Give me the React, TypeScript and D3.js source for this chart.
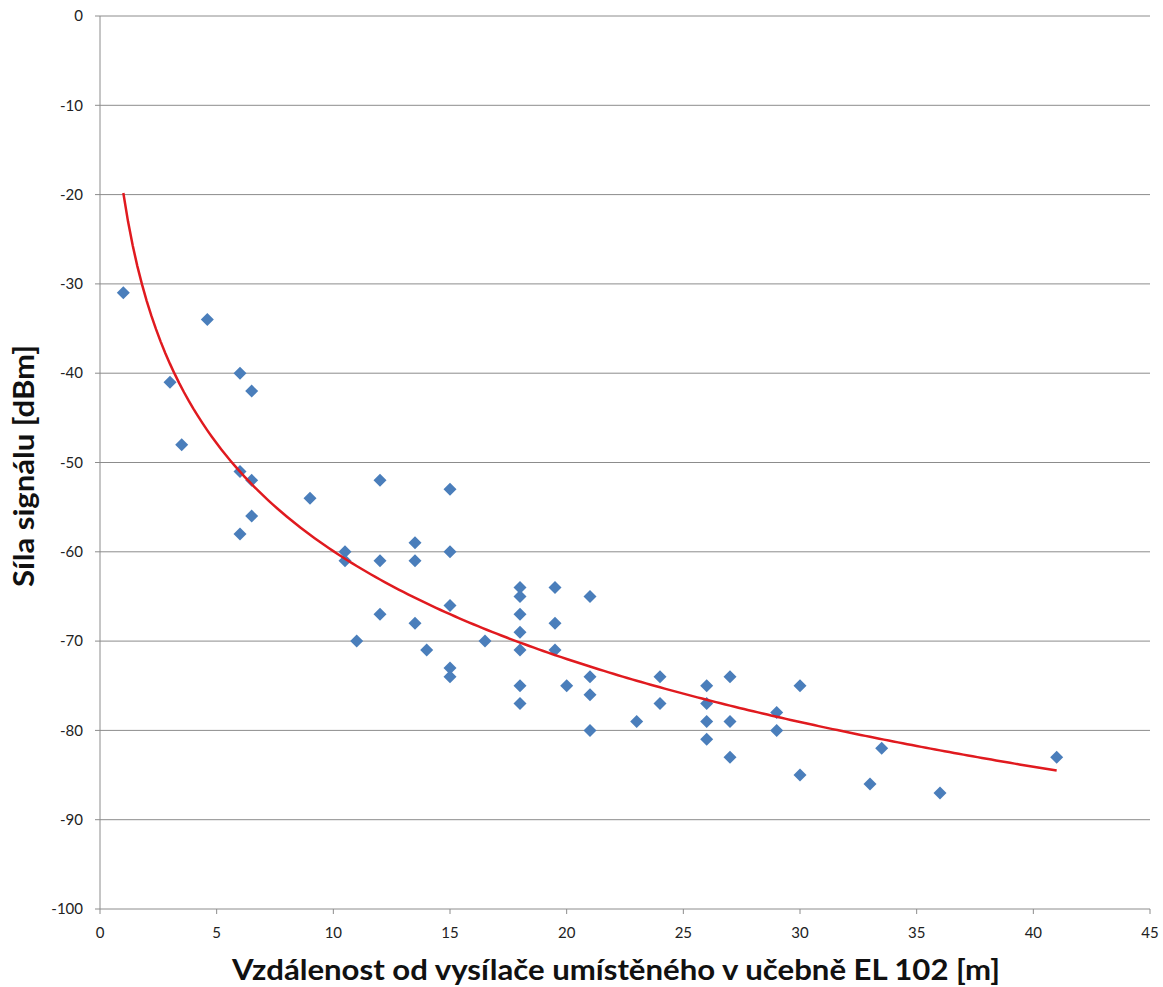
import React from "react";
import * as d3 from "d3";

const distances: number[] = [
  1, 3, 3.5, 4.6, 6, 6.5, 6, 6.5, 6.5, 6,
  9, 10.5, 10.5, 12, 12, 12, 11, 13.5, 13.5, 13.5,
  14, 15, 15, 15, 15, 15, 16.5, 18, 18, 18,
  18, 18, 18, 18, 19.5, 19.5, 19.5, 20, 21, 21,
  21, 21, 23, 24, 24, 26, 26, 26, 26, 27,
  27, 27, 29, 29, 30, 30, 33, 33.5, 36, 41,
];
const signals: number[] = [
  -31, -41, -48, -34, -40, -42, -51, -52, -56, -58,
  -54, -60, -61, -52, -61, -67, -70, -59, -61, -68,
  -71, -53, -60, -66, -73, -74, -70, -64, -65, -67,
  -69, -71, -75, -77, -64, -68, -71, -75, -65, -74,
  -76, -80, -79, -74, -77, -75, -77, -79, -81, -74,
  -79, -83, -78, -80, -75, -85, -86, -82, -87, -83,
];
const xTicks: number[] = [0, 5, 10, 15, 20, 25, 30, 35, 40, 45];
const yTicks: number[] = [0, -10, -20, -30, -40, -50, -60, -70, -80, -90, -100];
const xTitle = "Vzdálenost od vysílače umístěného v učebně EL 102 [m]";
const yTitle = "Síla signálu [dBm]";

// logarithmic least-squares trendline (as in the spreadsheet)
function logFit(xs: number[], ys: number[]) {
  const lx = xs.map((v) => Math.log(v));
  const mx = d3.mean(lx)!;
  const my = d3.mean(ys)!;
  let sxy = 0, sxx = 0;
  lx.forEach((v, i) => {
    sxy += (v - mx) * (ys[i] - my);
    sxx += (v - mx) * (v - mx);
  });
  const a = sxy / sxx;
  const b = my - a * mx;
  return (x: number) => a * Math.log(x) + b;
}

export default function App() {
  const W = 1163, H = 987;
  const x = d3.scaleLinear().domain([0, 45]).range([100, 1150]);
  const y = d3.scaleLinear().domain([-100, 0]).range([909, 16]);
  const fit = logFit(distances, signals);
  const xMin = d3.min(distances)!;
  const xMax = d3.max(distances)!;
  const trendX = d3.range(0, 201).map((i) => xMin + ((xMax - xMin) * i) / 200);
  const line = d3
    .line<number>()
    .x((d) => x(d))
    .y((d) => y(fit(d)));
  const font = "Lato, 'Open Sans', sans-serif";
  const diamond = "M0,-6.5L6.5,0L0,6.5L-6.5,0Z";
  return (
    <svg
      width={W}
      height={H}
      style={{ position: "absolute", left: 0, top: 0, background: "#fff" }}
    >
      <rect x={0} y={0} width={W} height={H} fill="#fff" />
      {yTicks.map((t) => (
        <g key={"y" + t}>
          {t !== -100 && (
            <line x1={x(0)} x2={x(45)} y1={y(t)} y2={y(t)} stroke="#8c8c8c" strokeWidth={1} />
          )}
          <line x1={x(0) - 5} x2={x(0)} y1={y(t)} y2={y(t)} stroke="#8c8c8c" strokeWidth={1} />
          <text
            x={x(0) - 17}
            y={y(t)}
            dy="0.35em"
            textAnchor="end"
            fontFamily={font}
            fontSize={15}
            fill="#222"
          >
            {t}
          </text>
        </g>
      ))}
      {xTicks.map((t) => (
        <g key={"x" + t}>
          <line x1={x(t)} x2={x(t)} y1={y(-100)} y2={y(-100) + 5} stroke="#8c8c8c" strokeWidth={1} />
          <text
            x={x(t)}
            y={y(-100) + 29}
            textAnchor="middle"
            fontFamily={font}
            fontSize={15}
            fill="#222"
          >
            {t}
          </text>
        </g>
      ))}
      <line x1={x(0)} x2={x(0)} y1={y(0)} y2={y(-100)} stroke="#8c8c8c" strokeWidth={1} />
      <line x1={x(0)} x2={x(45)} y1={y(-100)} y2={y(-100)} stroke="#8c8c8c" strokeWidth={1} />
      {distances.map((d, i) => (
        <path
          key={"p" + i}
          d={diamond}
          transform={`translate(${x(d)},${y(signals[i])})`}
          fill="#4a7ebb"
        />
      ))}
      <path d={line(trendX) || ""} fill="none" stroke="#e01a1f" strokeWidth={2.5} />
      <text
        x={616}
        y={980}
        textAnchor="middle"
        fontFamily={font}
        fontWeight="bold"
        fontSize={29}
        textLength={768}
        lengthAdjust="spacingAndGlyphs"
        fill="#111"
      >
        {xTitle}
      </text>
      <text
        transform={`translate(34,466) rotate(-90)`}
        textAnchor="middle"
        fontFamily={font}
        fontWeight="bold"
        fontSize={29}
        textLength={242}
        lengthAdjust="spacingAndGlyphs"
        fill="#111"
      >
        {yTitle}
      </text>
    </svg>
  );
}
